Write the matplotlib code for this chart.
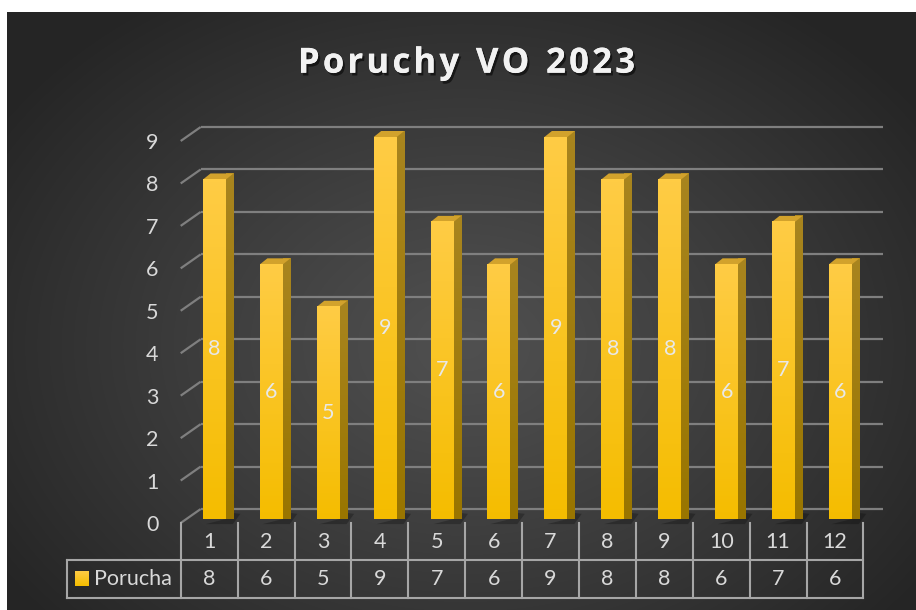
import numpy as np
import matplotlib
matplotlib.use('Agg')
import matplotlib.pyplot as plt
from matplotlib import transforms, patheffects
from matplotlib.patches import Polygon, Rectangle

# ---------------- data ----------------
months = [str(i) for i in range(1, 13)]
values = [8, 6, 5, 9, 7, 6, 9, 8, 8, 6, 7, 6]
series_name = 'Porucha'
title = 'Poruchy VO 2023'
yticks = list(range(0, 10))

# ---------------- layout ----------------
W, H = 916, 610
FONT = 'Lato'
plt.rcParams['font.family'] = [FONT, 'DejaVu Sans']

fig = plt.figure(figsize=(W / 100, H / 100), dpi=100, facecolor='white')


def fx(px):
    return px / W


def fy(py):
    return 1 - py / H


# background radial gradient
bg = fig.add_axes([fx(7), 0, 1 - fx(7), 1 - 12 / H])
bg.axis('off')
yy, xx = np.mgrid[12:610, 7:916]
cx, cy = 465, 345
d = np.sqrt(((xx - cx) / 560.0) ** 2 + ((yy - cy) / 420.0) ** 2)
d = np.clip(d, 0, 1) ** 1.1
c0 = np.array([0x50, 0x50, 0x50]) / 255
c1 = np.array([0x25, 0x25, 0x25]) / 255
img = c0[None, None, :] * (1 - d[..., None]) + c1[None, None, :] * d[..., None]
bg.imshow(img, aspect='auto', extent=[0, 1, 0, 1], interpolation='bilinear')
bg.set_xlim(0, 1)
bg.set_ylim(0, 1)

# main axes = front plane of the 3D box
L, R, Y0, Y9 = 180.7, 863.5, 523, 141
ax = fig.add_axes([fx(L), fy(Y0), (R - L) / W, (Y0 - Y9) / H])
ax.set_xlim(0.5, 12.5)
ax.set_ylim(0, 9)
ax.patch.set_visible(False)
for s in ax.spines.values():
    s.set_visible(False)
ax.set_xticks([])
ax.set_yticks(yticks)
ax.set_yticklabels([str(t) for t in yticks])
ax.tick_params(axis='y', length=0, pad=16, labelsize=15.5, labelcolor='#d9d9d9')

sx = (R - L) / 12.0   # px per x unit
sy = (Y0 - Y9) / 9.0  # px per y unit

# back wall offset (px) and bar offsets
back_dx, back_dy = 20 / sx, 14 / sy
bar_dx, bar_dy = 0.5 / sx, 4 / sy
dep_dx, dep_dy = 7.5 / sx, 6 / sy
bar_left = 21.8 / sx - 0.5
bar_w = 23 / sx

grid_c = '#7f7f7f'
for v in yticks:
    ax.plot([0.5 + back_dx, 12.5 + back_dx], [v + back_dy, v + back_dy],
            color=grid_c, lw=1.6, clip_on=False, zorder=1, solid_capstyle='butt')
    ax.plot([0.5, 0.5 + back_dx], [v, v + back_dy],
            color=grid_c, lw=1.6, clip_on=False, zorder=1, solid_capstyle='butt')

front_top = np.array([1.0, 0.80, 0.27])
front_bot = np.array([0.96, 0.74, 0.0])
side_top = np.array([0.66, 0.52, 0.12])
side_bot = np.array([0.60, 0.46, 0.0])
top_c = '#d2a22c'

for i, v in enumerate(values, start=1):
    x0 = i + bar_left + bar_dx
    x1 = x0 + bar_w
    yb = bar_dy
    yt = v + bar_dy
    # shadow on floor
    sh = Polygon([(x1, yb), (x1 + dep_dx, yb + dep_dy), (x1 + dep_dx + 0.12, yb + dep_dy - 0.02),
                  (x1 + 0.12, yb - 0.12), (x0 + 0.05, yb - 0.12)],
                 closed=True, facecolor='black', edgecolor='none', alpha=0.25, zorder=2,
                 clip_on=False)
    ax.add_patch(sh)
    # side face
    side = Polygon([(x1, yb), (x1 + dep_dx, yb + dep_dy), (x1 + dep_dx, yt + dep_dy), (x1, yt)],
                   closed=True, facecolor='none', edgecolor='none', zorder=3, clip_on=False)
    ax.add_patch(side)
    g = np.linspace(0, 1, 64)[:, None, None]
    sg = side_top[None, None, :] * (1 - g) + side_bot[None, None, :] * g
    im = ax.imshow(sg, extent=[x1, x1 + dep_dx, yb, yt + dep_dy], aspect='auto',
                   zorder=3, interpolation='bilinear', clip_on=False)
    im.set_clip_path(side)
    # top face
    top = Polygon([(x0, yt), (x1, yt), (x1 + dep_dx, yt + dep_dy), (x0 + dep_dx, yt + dep_dy)],
                  closed=True, facecolor=top_c, edgecolor='none', zorder=3, clip_on=False)
    ax.add_patch(top)
    # front face
    fg = front_top[None, None, :] * (1 - g) + front_bot[None, None, :] * g
    ax.imshow(fg, extent=[x0, x1, yb, yt], aspect='auto', zorder=4,
              interpolation='bilinear', clip_on=False)
    ax.text((x0 + x1) / 2, yb + v / 2, str(v), ha='center', va='center',
            fontsize=15.5, color='#e8e8e8', zorder=5)

ax.set_xlim(0.5, 12.5)
ax.set_ylim(0, 9)

# ---------------- data table ----------------
tr = transforms.blended_transform_factory(ax.transData, fig.transFigure)
t_top, t_mid, t_bot = fy(523), fy(560), fy(598)
line_c = '#a6a6a6'
lw_t = 1.5
for k in range(13):
    ax.plot([0.5 + k, 0.5 + k], [t_top, t_bot], transform=tr, color=line_c, lw=lw_t,
            clip_on=False, solid_capstyle='projecting')
for yv in (t_mid, t_bot):
    ax.plot([-1.5, 12.5], [yv, yv], transform=tr, color=line_c, lw=lw_t, clip_on=False,
            solid_capstyle='projecting')
ax.plot([-1.5, -1.5], [t_mid, t_bot], transform=tr, color=line_c, lw=lw_t, clip_on=False,
        solid_capstyle='projecting')

for i, (m, v) in enumerate(zip(months, values), start=1):
    ax.text(i, fy(542), m, transform=tr, ha='center', va='center', fontsize=15.5,
            color='#d9d9d9', clip_on=False)
    ax.text(i, fy(579), str(v), transform=tr, ha='center', va='center', fontsize=15.5,
            color='#d9d9d9', clip_on=False)

key_x = -1.5 + (75 - 67) / sx
key_w = 14 / sx
key = ax.imshow(np.linspace(0, 1, 32)[:, None, None] * (front_bot - front_top)[None, None, :]
                + front_top[None, None, :],
                extent=[key_x, key_x + key_w, fy(586), fy(572)], transform=tr, aspect='auto',
                clip_on=False, zorder=5)
ax.text(-1.5 + (94.5 - 67) / sx, fy(579), series_name, transform=tr, ha='left', va='center',
        fontsize=15.5, color='#d9d9d9', clip_on=False)

ax.set_xlim(0.5, 12.5)
ax.set_ylim(0, 9)

# ---------------- title (with letter spacing) ----------------
title_kw = dict(fontsize=25, fontweight='bold', color='#f2f2f2',
                family=['Open Sans', 'DejaVu Sans'], va='baseline', ha='left',
                path_effects=[patheffects.withSimplePatchShadow(offset=(1.5, -2),
                                                                shadow_rgbFace='black',
                                                                alpha=0.55),
                              patheffects.Normal()])
renderer = fig.canvas.get_renderer()
spacing = 3.2  # px between glyphs
widths = []
for ch in title:
    t = fig.text(0, 0, ch if ch != ' ' else 'n', **title_kw)
    wpx = t.get_window_extent(renderer).width
    if ch == ' ':
        wpx *= 0.45
    widths.append(wpx)
    t.remove()
total = sum(widths) + spacing * (len(title) - 1)
xpos = 466.5 - total / 2
for ch, wpx in zip(title, widths):
    if ch != ' ':
        fig.text(fx(xpos), fy(72.7), ch, **title_kw)
    xpos += wpx + spacing

fig.savefig('out.png', dpi=100, facecolor=fig.get_facecolor())
